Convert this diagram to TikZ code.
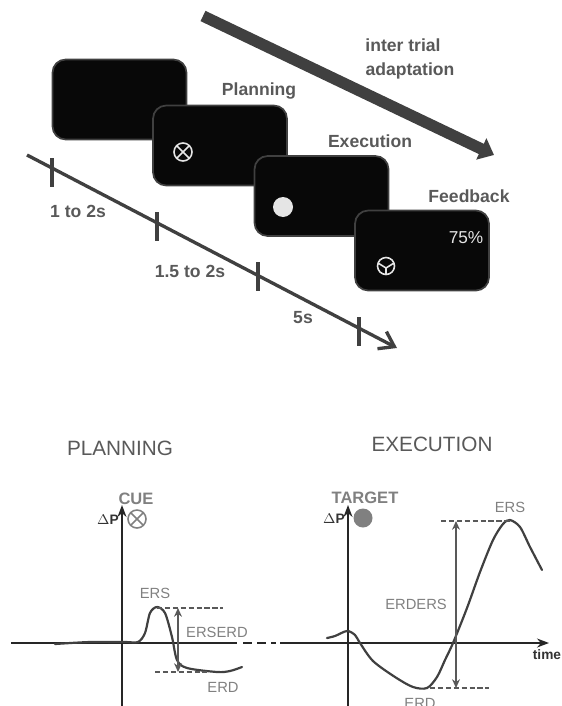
\documentclass[tikz,border=0pt]{standalone}
\usepackage{fontspec}
\setmainfont{Liberation Sans}
\usetikzlibrary{arrows, arrows.meta, calc, positioning}
\definecolor{inkgray}{gray}{0.25}
\definecolor{labelgray}{gray}{0.35}
\definecolor{softgray}{gray}{0.5}
\tikzset{
  screen/.style={draw=black!75, line width=1pt, fill=black!97, rounded corners=7.5pt, minimum width=2.68cm, minimum height=1.6cm, inner sep=0pt},
  steplabel/.style={text=labelgray, font=\fontsize{10}{12}\selectfont\bfseries, inner sep=0pt},
  peaklabel/.style={text=softgray, font=\fontsize{8.4}{10}\selectfont, inner sep=0pt},
  headlabel/.style={text=labelgray, font=\fontsize{11.8}{14}\selectfont, inner sep=0pt},
  cuelabel/.style={text=softgray, font=\fontsize{9.4}{11}\selectfont\bfseries, inner sep=0pt},
  axislabel/.style={text=black!80, font=\fontsize{7.8}{9}\selectfont\bfseries, inner sep=0pt},
  plotaxis/.style={line width=0.85pt, black!85},
  trace/.style={line width=1.25pt, inkgray, line cap=round},
  levelline/.style={line width=0.7pt, labelgray, dash pattern=on 3pt off 1.5pt},
  spanline/.style={{Stealth[length=5pt,width=4.5pt]}-{Stealth[length=5pt,width=4.5pt]}, line width=0.7pt, labelgray},
  timetick/.style={line width=2.3pt, inkgray},
  crossmark/.pic={
    \draw[pic actions] (0,0) circle (#1);
    \draw[pic actions] (45:#1) -- (225:#1) (135:#1) -- (315:#1);
  }
}
\begin{document}
\begin{tikzpicture}[x=0.02cm,y=-0.02cm,>=Stealth]
    \useasboundingbox (0,0) rectangle (561,706);
    \clip (0,0) rectangle (561,706);
    % adaptation arrow
    \coordinate (adaptstart) at (203,16);
    \coordinate (adaptend) at (494,155);
    \draw[inkgray, line width=6.5pt, -{Triangle[length=8pt,width=13pt]}] (adaptstart) -- (adaptend);
    \node[steplabel] (inter) at (403,45) {inter trial};
    \node[steplabel] (adapt) at (410,71) {adaptation};
    % screens
    \node[screen] (rest) at (119.5,99.5) {};
    \node[screen] (plan) at (220,145.5) {};
    \node[screen] (exec) at (321.5,196) {};
    \node[screen] (feed) at (422,250.5) {};
    \node[steplabel] (planlabel) at (259,91) {Planning};
    \node[steplabel] (execlabel) at (370,141) {Execution};
    \node[steplabel] (feedlabel) at (469,196) {Feedback};
    \pic[draw=white!90!black, line width=0.9pt] at (183,152) {crossmark=9};
    \fill[white!90!black] (283,207) circle (10);
    \node[text=white!90!black, font=\fontsize{9.8}{11}\selectfont, inner sep=0pt] (score) at (466,238) {75\%};
    \draw[white!90!black, line width=0.9pt] (386,266) circle (8.5) (386,268) -- (378,263) (386,268) -- (394,263) (386,268) -- (386,275);
    % time line
    \coordinate (linestart) at (27,155);
    \coordinate (lineend) at (397,348);
    \draw[inkgray, line width=1.9pt, -{Straight Barb[length=8pt,width=11pt]}] (linestart) -- (lineend);
    \foreach \x/\y in {52/158, 157/212, 258/262, 359/317}
        \draw[timetick] (\x,\y) -- (\x,\y+29);
    \node[steplabel] (first) at (78,211) {1 to 2s};
    \node[steplabel] (second) at (190,271) {1.5 to 2s};
    \node[steplabel] (third) at (303,318) {5s};
    % planning plot
    \node[headlabel] (planhead) at (120,448) {PLANNING};
    \coordinate (lefty0) at (122,706);
    \coordinate (lefty1) at (122,505);
    \coordinate (leftx0) at (11,643);
    \coordinate (leftx1) at (237,643);
    \coordinate (leftx2) at (276,643);
    \draw[plotaxis, ->] (lefty0) -- (lefty1);
    \draw[plotaxis] (leftx0) -- (leftx1);
    \draw[plotaxis, dash pattern=on 5pt off 3pt] ($(leftx1)+(6,0)$) -- (leftx2);
    \draw[trace, smooth] plot coordinates {(55,644) (90,642) (125,642) (138,642) (145,633) (150,613) (157,607) (165,613) (172,637) (177,660) (187,668) (217,672) (230,671) (242,667)};
    \coordinate (ersleft) at (157,608);
    \coordinate (ersright) at (223,608);
    \coordinate (erdleft) at (155,672);
    \coordinate (erdright) at (207,672);
    \draw[levelline] (ersleft) -- (ersright);
    \draw[levelline] (erdleft) -- (erdright);
    \draw[spanline] (178,608) -- (178,672);
    \node[peaklabel] (ersone) at (155,593) {ERS};
    \node[peaklabel] (erserd) at (217,632) {ERSERD};
    \node[peaklabel] (erdone) at (223,687) {ERD};
    \node[cuelabel] (cue) at (136,499) {CUE};
    \node[axislabel] (dpone) at (108,520) {$\Delta$P};
    \pic[draw=softgray, line width=0.9pt] at (137,519) {crossmark=9};
    % execution plot
    \node[headlabel] (exechead) at (432,444) {EXECUTION};
    \coordinate (righty0) at (348,706);
    \coordinate (righty1) at (348,505);
    \coordinate (rightx0) at (280,643);
    \coordinate (rightx1) at (549,643);
    \draw[plotaxis, ->] (righty0) -- (righty1);
    \draw[plotaxis, ->] (rightx0) -- (rightx1);
    \draw[trace, smooth] plot coordinates {(327,638) (335,636) (347,631) (355,635) (360,643) (373,661) (395,677) (413,687) (427,688) (437,677) (445,660) (453,643) (467,608) (480,572) (493,540) (503,524) (510,520) (520,527) (530,547) (542,570)};
    \coordinate (topleft) at (441,521);
    \coordinate (topright) at (510,521);
    \coordinate (lowleft) at (430,688);
    \coordinate (lowright) at (489,688);
    \draw[levelline] (topleft) -- (topright);
    \draw[levelline] (lowleft) -- (lowright);
    \draw[spanline] (456,521) -- (456,688);
    \node[peaklabel] (erstwo) at (510,507) {ERS};
    \node[peaklabel] (erders) at (416,604) {ERDERS};
    \node[peaklabel] (erdtwo) at (420,703) {ERD};
    \node[axislabel] (timelabel) at (547,655) {time};
    \node[cuelabel] (target) at (365,498) {TARGET};
    \node[axislabel] (dptwo) at (334,519) {$\Delta$P};
    \fill[softgray] (363,518) circle (9.5);
\end{tikzpicture}
\end{document}
